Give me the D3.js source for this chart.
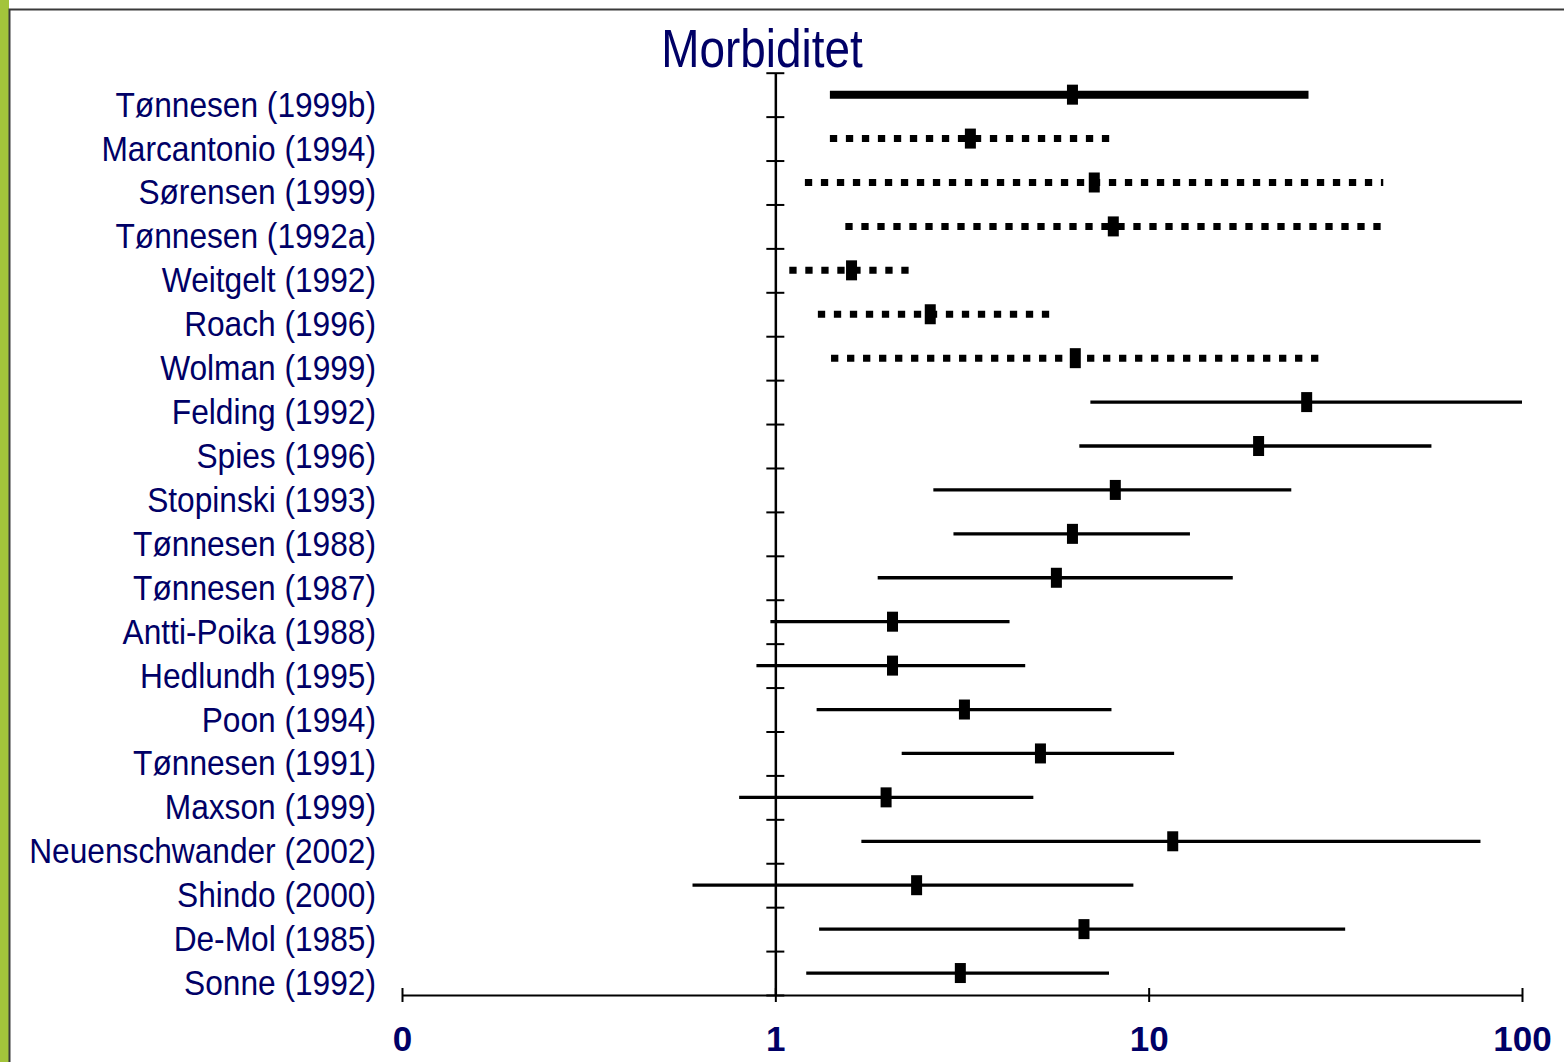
<!DOCTYPE html>
<html>
<head>
<meta charset="utf-8">
<script src="https://cdn.jsdelivr.net/npm/d3@7"></script>
<style>
  html, body { margin: 0; padding: 0; background: #fff; }
  svg { display: block; }
  .label { font-family: "Liberation Sans", Arial, sans-serif; fill: #000066; }
  .tick text { font-family: "Liberation Sans", Arial, sans-serif; font-weight: bold; fill: #000066; }
</style>
</head>
<body>
<svg id="Chart" width="1564" height="1062"></svg>
<script>
// study names, top to bottom
var studies = [
    "Tønnesen (1999b)", "Marcantonio (1994)", "Sørensen (1999)", "Tønnesen (1992a)",
    "Weitgelt (1992)", "Roach (1996)", "Wolman (1999)", "Felding (1992)", "Spies (1996)",
    "Stopinski (1993)", "Tønnesen (1988)", "Tønnesen (1987)", "Antti-Poika (1988)",
    "Hedlundh (1995)", "Poon (1994)", "Tønnesen (1991)", "Maxson (1999)",
    "Neuenschwander (2002)", "Shindo (2000)", "De-Mol (1985)", "Sonne (1992)"
];
// relative risk and confidence interval
var estimates = [6.25, 3.33, 7.15, 8.04, 1.60, 2.60, 6.36, 26.5, 19.7, 8.14, 6.25, 5.66, 2.06, 2.06, 3.21, 5.13, 1.98, 11.6, 2.39, 6.71, 3.13];
var lower = [1.40, 1.40, 1.20, 1.54, 1.09, 1.30, 1.41, 6.98, 6.52, 2.65, 3.00, 1.88, 0.97, 0.89, 1.29, 2.18, 0.80, 1.70, 0.60, 1.31, 1.21];
var upper = [26.8, 8.25, 42.5, 42.0, 2.29, 5.42, 28.7, 100, 57.2, 24.1, 12.9, 16.8, 4.24, 4.67, 7.95, 11.7, 4.91, 77.4, 9.10, 33.6, 7.83];
var lineType = ["thick", "dotted", "dotted", "dotted", "dotted", "dotted", "dotted",
    "solid", "solid", "solid", "solid", "solid", "solid", "solid", "solid", "solid",
    "solid", "solid", "solid", "solid", "solid"];
var tickValues = [0.1, 1, 10, 100];
var tickLabels = ["0", "1", "10", "100"];
var title = "Morbiditet";

var svg = d3.select("#Chart");

// slide frame: green strip on the left, dark border
svg.append("rect").attr("x", 0).attr("y", 0).attr("width", 9).attr("height", 1062).attr("fill", "#a3c43b");
svg.append("path").attr("d", "M9.5,1062V9.5H1564").attr("fill", "none").attr("stroke", "#3a3a3a").attr("stroke-width", 2);

var x = d3.scaleLog().domain([0.1, 100]).range([402, 1522]);
var y = d3.scaleBand().domain(studies).range([72.7, 995]);
var yEdge = d3.scaleLinear().domain([0, studies.length]).range([72.7, 995]);

// narrow look: Liberation Sans squeezed horizontally
svg.append("text")
    .attr("class", "label")
    .attr("transform", "translate(762,66.5) scale(0.85,1)")
    .attr("text-anchor", "middle")
    .style("font-size", "54px")
    .text(title);

// x axis
var xAxis = svg.append("g")
    .attr("transform", "translate(0,995)")
    .call(d3.axisBottom(x).tickValues(tickValues).tickFormat(function (d, i) { return tickLabels[i]; }).tickSizeOuter(0).tickSizeInner(7).tickPadding(24));
xAxis.select(".domain").attr("stroke", "#000").attr("stroke-width", 2);
xAxis.selectAll(".tick line").attr("y1", -7).attr("stroke-width", 2);
xAxis.selectAll(".tick text").style("font-size", "35px");

// vertical line at 1 with row ticks
var yAxis = svg.append("g")
    .attr("transform", "translate(" + x(1) + ",0)")
    .call(d3.axisRight(yEdge).tickValues(d3.range(studies.length + 1)).tickFormat("").tickSizeOuter(0).tickSizeInner(9));
yAxis.select(".domain").attr("stroke", "#000").attr("stroke-width", 2.5);
yAxis.selectAll(".tick line").attr("x1", -9).attr("stroke-width", 2);

// study labels
svg.append("g").selectAll("text")
    .data(studies)
    .enter().append("text")
    .attr("class", "label")
    .attr("transform", function (d) { return "translate(376," + (y(d) + y.bandwidth() / 2 + 22) + ") scale(0.88,1)"; })
    .attr("text-anchor", "end")
    .style("font-size", "36px")
    .text(function (d) { return d; });

// intervals
var rows = svg.append("g").selectAll("g")
    .data(studies)
    .enter().append("g")
    .attr("transform", function (d) { return "translate(0," + (y(d) + y.bandwidth() / 2) + ")"; });

rows.append("line")
    .attr("x1", function (d, i) { return x(lower[i]); })
    .attr("x2", function (d, i) { return x(upper[i]); })
    .attr("stroke", "#000")
    .attr("stroke-width", function (d, i) { return lineType[i] === "thick" ? 8 : lineType[i] === "dotted" ? 7 : 3.3; })
    .attr("stroke-dasharray", function (d, i) { return lineType[i] === "dotted" ? "7.3,8.7" : null; });

rows.append("rect")
    .attr("x", function (d, i) { return x(estimates[i]) - 5.5; })
    .attr("y", -10)
    .attr("width", 11)
    .attr("height", 20)
    .attr("fill", "#000");
</script>
</body>
</html>
